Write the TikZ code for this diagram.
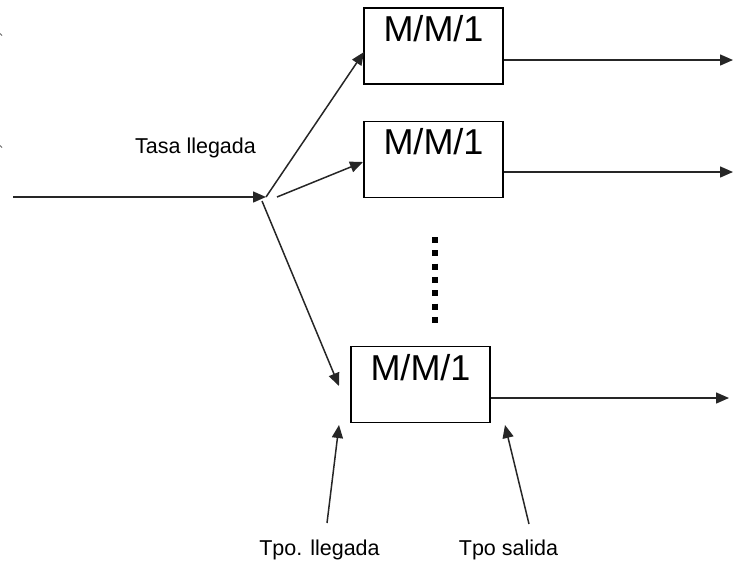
\documentclass[tikz,border=0pt]{standalone}
\usepackage{fontspec}
\setmainfont{Liberation Sans}
\usetikzlibrary{arrows.meta,calc}
\begin{document}
\begin{tikzpicture}[x=1pt,y=-1pt,
  queue/.style={draw=black,line width=1.6pt,minimum width=139pt,minimum height=76pt,inner sep=0pt},
  qtext/.style={font=\fontsize{36}{40}\selectfont,anchor=base,inner sep=0pt},
  lbl/.style={font=\fontsize{21.5}{24}\selectfont,anchor=base,inner sep=0pt},
  arr/.style={draw=black!85,line width=1.5pt,-{Triangle[length=13pt,width=11pt]}},
  ln/.style={draw=black!85,line width=1.5pt}]
\useasboundingbox (0,0) rectangle (733,560);
% boxes
\node[queue] (b1) at (433.5,46) {};
\node[queue] (b2) at (433.5,159.5) {};
\node[queue] (b3) at (420.5,384.5) {};
\node[qtext] (t1) at ($(b1.north)+(0,34)$) {M/M/1};
\node[qtext] (t2) at ($(b2.north)+(0,34)$) {M/M/1};
\node[qtext] (t3) at ($(b3.north)+(0,35)$) {M/M/1};
% labels
\node[lbl] (tasa) at (195.5,153) {Tasa llegada};
\node[lbl] (tll) at (319.5,555) {Tpo. llegada};
\node[lbl] (tsal) at (508.5,555) {Tpo salida};
% coordinates
\coordinate (in) at (13,197);
\coordinate (s) at (266,197);
\coordinate (s2) at (277,197);
\coordinate (s3) at (262,201);
\coordinate (e1) at (364,52);
\coordinate (e2) at (363,162);
\coordinate (e3) at (339,386);
\coordinate (o1) at (733,60);
\coordinate (o2) at (733,172);
\coordinate (o3) at (729,398);
\coordinate (a1) at (327,523);
\coordinate (a1t) at (339,425);
\coordinate (a2) at (529,524);
\coordinate (a2t) at (505,425);
\coordinate (d1) at (435,237);
\coordinate (d2) at (435,323);
% connectors
\draw[arr] (in) -- (s);
\draw[arr] (s) -- (e1);
\draw[arr] (s2) -- (e2);
\draw[arr] (s3) -- (e3);
\draw[arr] (b1.east |- o1) -- (o1);
\draw[arr] (b2.east |- o2) -- (o2);
\draw[arr] (b3.east |- o3) -- (o3);
\draw[arr] (a1) -- (a1t);
\draw[arr] (a2) -- (a2t);
% dotted
\draw[black,line width=6pt,dash pattern=on 6pt off 7.3pt] (d1) -- (d2);
% tiny marks at left edge
\draw[black!60,line width=1pt] (0,33.5) -- (2,35.5);
\draw[black!60,line width=1pt] (0,145.5) -- (2,147.5);
\end{tikzpicture}
\end{document}
